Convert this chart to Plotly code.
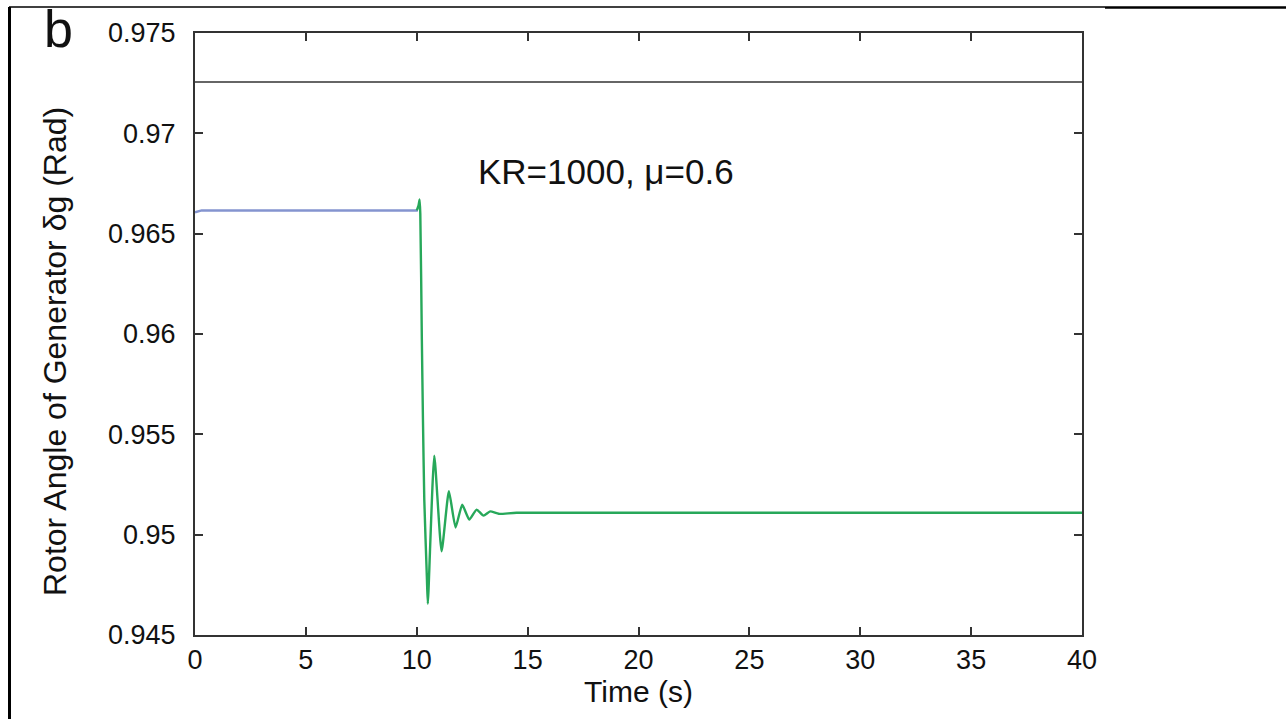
import plotly.graph_objects as go

# ---- data ----
t_ref = [0, 40]
v_ref = [0.97256, 0.97256]

t_pre = [0, 0.3, 10.05]
v_pre = [0.96606, 0.96616, 0.96616]

t_post = [10.0, 10.08, 10.13, 10.16, 10.23, 10.28, 10.34, 10.46, 10.50, 10.79,
          11.12, 11.45, 11.75, 12.05, 12.37, 12.70, 13.01, 13.31, 13.7, 14.5, 40]
v_post = [0.96616, 0.96640, 0.96670, 0.96600, 0.95972, 0.95573, 0.95174, 0.94776,
          0.94656, 0.95394, 0.94917, 0.95216, 0.95036, 0.95149, 0.95075, 0.95125,
          0.95095, 0.95116, 0.95104, 0.95109, 0.95109]

x_ticks = [0, 5, 10, 15, 20, 25, 30, 35, 40]
y_ticks = [0.945, 0.95, 0.955, 0.96, 0.965, 0.97, 0.975]
y_labels = ["0.945", "0.95", "0.955", "0.96", "0.965", "0.97", "0.975"]

W, H = 1286, 719
ML, MR, MT, MB = 195, 204, 33, 84
FONT = "Liberation Sans, Arial, Helvetica, sans-serif"

def px(x):
    return (x - ML) / (W - ML - MR)

def py(y):
    return 1 - (y - MT) / (H - MT - MB)

fig = go.Figure()
fig.add_trace(go.Scatter(x=t_ref, y=v_ref, mode="lines",
                         line=dict(color="#333333", width=1.6), showlegend=False))
fig.add_trace(go.Scatter(x=t_pre, y=v_pre, mode="lines",
                         line=dict(color="#8494cf", width=2.5), showlegend=False))
fig.add_trace(go.Scatter(x=t_post, y=v_post, mode="lines",
                         line=dict(color="#27a85a", width=2.4, shape="spline", smoothing=0.5),
                         showlegend=False))

axis_common = dict(showline=True, linecolor="#333333", linewidth=2, mirror="ticks",
                   ticks="inside", ticklen=8, tickwidth=1.5, tickcolor="#333333",
                   showgrid=False, zeroline=False,
                   tickfont=dict(family=FONT, size=27, color="#111111"))

fig.update_xaxes(range=[0, 40], tickvals=x_ticks, ticktext=[str(v) for v in x_ticks],
                 title=dict(text="Time (s)", font=dict(family=FONT, size=30, color="#111111"),
                            standoff=6),
                 **axis_common)
fig.update_yaxes(range=[0.945, 0.975], tickvals=y_ticks, ticktext=y_labels,
                 ticklabelstandoff=12, **axis_common)

fig.add_annotation(x=px(55), y=py(352), xref="paper", yref="paper",
                   text="Rotor Angle of Generator δg (Rad)", textangle=-90,
                   showarrow=False, xanchor="center", yanchor="middle",
                   font=dict(family=FONT, size=32, color="#111111"))
fig.add_annotation(x=px(606), y=py(171), xref="paper", yref="paper",
                   text="KR=1000, μ=0.6", showarrow=False,
                   xanchor="center", yanchor="middle",
                   font=dict(family=FONT, size=35, color="#111111"))
fig.add_annotation(x=px(58), y=py(29), xref="paper", yref="paper",
                   text="b", showarrow=False, xanchor="center", yanchor="middle",
                   font=dict(family=FONT, size=52, color="#111111"))

# outer frame lines of the figure panel
fig.add_shape(type="line", xref="paper", yref="paper",
              x0=px(9), x1=px(1105), y0=py(7), y1=py(7),
              line=dict(color="black", width=1.5))
fig.add_shape(type="line", xref="paper", yref="paper",
              x0=px(1105), x1=px(W), y0=py(7.5), y1=py(7.5),
              line=dict(color="black", width=2.5))
fig.add_shape(type="line", xref="paper", yref="paper",
              x0=px(9.5), x1=px(9.5), y0=py(7), y1=py(H),
              line=dict(color="black", width=3))

fig.update_layout(width=W, height=H, margin=dict(l=ML, r=MR, t=MT, b=MB),
                  paper_bgcolor="white", plot_bgcolor="white")

fig.write_html("out.html")
